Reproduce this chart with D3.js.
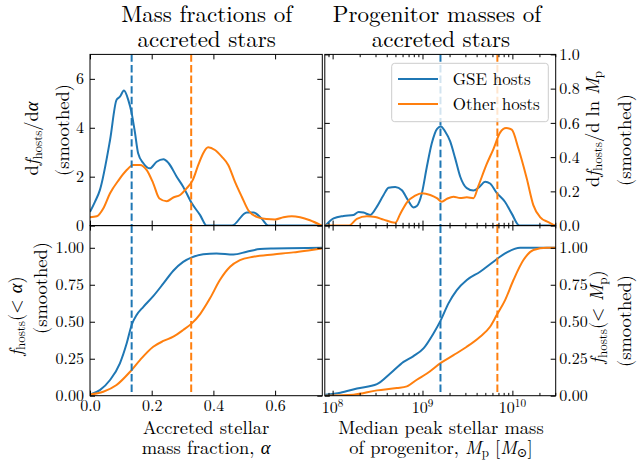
<!DOCTYPE html>
<html><head><meta charset="utf-8">
<script src="https://cdn.jsdelivr.net/npm/d3@7"></script>
<style>
body{margin:0;background:#fff}
</style>
</head><body>
<svg id="c" width="640" height="466"></svg>
<script>
// ---------------- DATA ----------------
const seriesNames = ["GSE hosts", "Other hosts"];
const seriesColors = ["#1f77b4", "#ff7f0e"];

// Top-left: dfhosts/dalpha
const pdfAlphaGSE_a = [0, 0.016, 0.032, 0.065, 0.086, 0.097, 0.11, 0.124, 0.135, 0.146, 0.156, 0.173, 0.194, 0.216, 0.238, 0.255, 0.281, 0.302, 0.33, 0.357, 0.378, 0.46, 0.508, 0.53, 0.556, 0.578, 0.753];
const pdfAlphaGSE_v = [0.56, 0.97, 1.45, 3.5, 5.14, 5.27, 5.52, 5.14, 4.6, 3.78, 2.96, 2.55, 2.34, 2.61, 2.71, 2.55, 2.0, 1.59, 0.91, 0.43, 0.0, 0.0, 0.54, 0.54, 0.29, 0.0, 0.0];
const pdfAlphaOth_a = [0, 0.022, 0.043, 0.065, 0.093, 0.119, 0.14, 0.162, 0.184, 0.205, 0.225, 0.249, 0.27, 0.292, 0.313, 0.333, 0.351, 0.367, 0.383, 0.405, 0.427, 0.448, 0.47, 0.492, 0.513, 0.54, 0.573, 0.6, 0.627, 0.654, 0.681, 0.713, 0.751];
const pdfAlphaOth_v = [0.34, 0.38, 0.7, 1.32, 1.86, 2.27, 2.48, 2.48, 2.27, 1.73, 1.11, 1.0, 1.15, 1.25, 1.52, 1.86, 2.48, 2.96, 3.2, 3.09, 2.82, 2.48, 1.79, 1.18, 0.63, 0.36, 0.27, 0.25, 0.34, 0.38, 0.34, 0.22, 0.0];

// Top-right: dfhosts/dlnMp  (log10 of Mp)
const pdfMpGSE_logM = [7.919, 8.011, 8.122, 8.233, 8.289, 8.344, 8.419, 8.493, 8.567, 8.622, 8.697, 8.771, 8.833, 8.9, 8.937, 8.993, 9.049, 9.104, 9.16, 9.204, 9.252, 9.308, 9.363, 9.419, 9.493, 9.567, 9.633, 9.697, 9.752, 9.826, 9.919, 9.993, 10.078, 10.482];
const pdfMpGSE_v = [0, 0.042, 0.056, 0.062, 0.079, 0.076, 0.062, 0.111, 0.179, 0.221, 0.226, 0.207, 0.153, 0.106, 0.114, 0.189, 0.345, 0.482, 0.564, 0.579, 0.55, 0.492, 0.394, 0.287, 0.219, 0.205, 0.226, 0.256, 0.246, 0.191, 0.138, 0.07, 0.0, 0.0];
const pdfMpOth_logM = [7.919, 8.178, 8.27, 8.382, 8.474, 8.567, 8.697, 8.752, 8.827, 8.919, 8.993, 9.086, 9.16, 9.215, 9.27, 9.345, 9.419, 9.493, 9.567, 9.622, 9.715, 9.789, 9.863, 9.93, 9.993, 10.067, 10.16, 10.233, 10.308, 10.4, 10.474];
const pdfMpOth_v = [0, 0, 0.039, 0.054, 0.05, 0.035, 0.017, 0.068, 0.136, 0.175, 0.189, 0.179, 0.16, 0.14, 0.156, 0.169, 0.161, 0.165, 0.16, 0.232, 0.36, 0.447, 0.543, 0.57, 0.56, 0.45, 0.275, 0.12, 0.05, 0.02, 0];

// Bottom-left: fhosts(<alpha)
const cdfAlphaGSE_a = [0, 0.032, 0.065, 0.097, 0.119, 0.135, 0.151, 0.173, 0.205, 0.238, 0.27, 0.302, 0.33, 0.367, 0.41, 0.465, 0.508, 0.551, 0.594, 0.753];
const cdfAlphaGSE_v = [0.008, 0.038, 0.106, 0.219, 0.354, 0.478, 0.545, 0.601, 0.673, 0.759, 0.845, 0.905, 0.935, 0.957, 0.962, 0.955, 0.973, 0.991, 0.995, 1.0];
const cdfAlphaOth_a = [0, 0.043, 0.086, 0.13, 0.162, 0.205, 0.238, 0.27, 0.302, 0.33, 0.357, 0.389, 0.421, 0.454, 0.486, 0.529, 0.594, 0.659, 0.713, 0.751];
const cdfAlphaOth_v = [0.008, 0.027, 0.072, 0.162, 0.241, 0.331, 0.37, 0.399, 0.444, 0.489, 0.552, 0.658, 0.782, 0.872, 0.917, 0.939, 0.955, 0.969, 0.984, 0.995];

// Bottom-right: fhosts(<Mp)
const cdfMpGSE_logM = [7.919, 8.086, 8.271, 8.493, 8.641, 8.789, 8.9, 9.011, 9.122, 9.204, 9.289, 9.382, 9.493, 9.641, 9.789, 9.919, 10.086, 10.23, 10.482];
const cdfMpGSE_v = [0.007, 0.02, 0.049, 0.078, 0.15, 0.229, 0.268, 0.32, 0.421, 0.511, 0.624, 0.714, 0.782, 0.838, 0.906, 0.962, 1.0, 1.0, 1.0];
const cdfMpOth_logM = [7.919, 8.233, 8.493, 8.715, 8.826, 8.937, 9.049, 9.204, 9.345, 9.493, 9.641, 9.752, 9.826, 9.919, 10.012, 10.123, 10.234, 10.382, 10.482];
const cdfMpOth_v = [0.0, 0.007, 0.036, 0.052, 0.063, 0.108, 0.15, 0.222, 0.274, 0.331, 0.399, 0.466, 0.545, 0.646, 0.782, 0.917, 0.985, 1.0, 1.0];

// Medians (dashed lines)
const medianAlpha = [0.135, 0.328];
const medianLogMp = [9.2, 9.833];

// Tick values / labels
const alphaTicks = [0, 0.2, 0.4, 0.6];
const alphaTickLabels = ["0.0", "0.2", "0.4", "0.6"];
const pdfAlphaTicks = [0, 2, 4, 6];
const pdfMpTicks = [0, 0.2, 0.4, 0.6, 0.8, 1.0];
const cdfTicks = [0, 0.25, 0.5, 0.75, 1.0];
const mpMajorExp = [8, 9, 10];

// ---------------- DRAW ----------------
const FONT = "'Latin Modern Roman', 'Liberation Serif', 'DejaVu Serif', serif";
(function(){ const cv = document.createElement("canvas").getContext("2d");
  ["", "italic "].forEach(s => { cv.font = s + "20px " + FONT; cv.measureText("Mass fractions αM⊙0123"); }); })();

const svg = d3.select("#c").attr("font-family", FONT);
const FS_TICK = 16, FS_LAB = 18.5, FS_TITLE = 23, FS_LEG = 17;

const xA = d3.scaleLinear().domain([0, 0.753]).range([90, 322.3]);
const xM = d3.scaleLog().domain([Math.pow(10, 7.913), Math.pow(10, 10.482)]).range([324.8, 555.7]);
const yPdfA = d3.scaleLinear().domain([0, 7]).range([225.6, 54.4]);
const yPdfM = d3.scaleLinear().domain([0, 1]).range([225.6, 54.4]);
const yCdf = d3.scaleLinear().domain([0, 1.15]).range([395.7, 225.6]);

const mpMinor = [];
for (let e = 7; e <= 10; e++) for (let m = 2; m <= 9; m++) {
  const v = m * Math.pow(10, e);
  if (v >= xM.domain()[0] && v <= xM.domain()[1]) mpMinor.push(v);
}
const mpMajor = mpMajorExp.map(e => Math.pow(10, e));

const panels = [
  {id: "tl", x: xA, y: yPdfA, log: false, xt: alphaTicks, yt: pdfAlphaTicks, yfmt: d => d3.format("d")(d), yside: "left", xlab: false},
  {id: "tr", x: xM, y: yPdfM, log: true, yt: pdfMpTicks, yfmt: d3.format(".1f"), yside: "right", xlab: false},
  {id: "bl", x: xA, y: yCdf, log: false, xt: alphaTicks, yt: cdfTicks, yfmt: d3.format(".2f"), yside: "left", xlab: true},
  {id: "br", x: xM, y: yCdf, log: true, yt: cdfTicks, yfmt: d3.format(".2f"), yside: "right", xlab: true}
];

const defs = svg.append("defs");
panels.forEach(p => {
  const [x0, x1] = p.x.range(), [y1, y0] = p.y.range();
  p.box = {x0, x1, y0, y1};
  defs.append("clipPath").attr("id", "clip-" + p.id)
    .append("rect").attr("x", x0).attr("y", y0).attr("width", x1 - x0).attr("height", y1 - y0);
});

function mkLine(p, xs, ys) {
  return d3.line()
    .x((d, i) => p.x(p.log ? Math.pow(10, xs[i]) : xs[i]))
    .y((d, i) => p.y(ys[i]))
    .curve(d3.curveMonotoneX)(xs);
}

const curveData = {
  tl: [[pdfAlphaGSE_a, pdfAlphaGSE_v], [pdfAlphaOth_a, pdfAlphaOth_v]],
  tr: [[pdfMpGSE_logM, pdfMpGSE_v], [pdfMpOth_logM, pdfMpOth_v]],
  bl: [[cdfAlphaGSE_a, cdfAlphaGSE_v], [cdfAlphaOth_a, cdfAlphaOth_v]],
  br: [[cdfMpGSE_logM, cdfMpGSE_v], [cdfMpOth_logM, cdfMpOth_v]]
};

panels.forEach(p => {
  const g = svg.append("g").attr("clip-path", "url(#clip-" + p.id + ")");
  curveData[p.id].forEach((s, k) => {
    g.append("path").attr("d", mkLine(p, s[0], s[1]))
      .attr("fill", "none").attr("stroke", seriesColors[k]).attr("stroke-width", 2)
      .attr("stroke-linejoin", "round");
  });
  const meds = p.log ? medianLogMp.map(v => Math.pow(10, v)) : medianAlpha;
  meds.forEach((m, k) => {
    g.append("line").attr("x1", p.x(m)).attr("x2", p.x(m))
      .attr("y1", p.box.y0).attr("y2", p.box.y1)
      .attr("stroke", seriesColors[k]).attr("stroke-width", 2)
      .attr("stroke-dasharray", "7.4,3.2");
  });
});

// axes / ticks
function styleAxis(g) {
  g.select(".domain").remove();
  g.selectAll("line").attr("stroke", "#000").attr("stroke-width", 1);
  g.attr("font-family", FONT).attr("font-size", FS_TICK);
  g.selectAll("text").attr("font-size", FS_TICK).attr("font-family", FONT).attr("fill", "#000");
}
panels.forEach(p => {
  const b = p.box;
  const xMajor = p.log ? mpMajor : p.xt;
  const addX = (axisFn, yPos, size, vals, labels) => {
    const ax = axisFn(p.x).tickValues(vals).tickSizeInner(-size).tickSizeOuter(0).tickPadding(4);
    ax.tickFormat(labels ? ((d, i) => labels[i]) : "");
    svg.append("g").attr("transform", `translate(0,${yPos})`).call(ax).call(styleAxis);
  };
  addX(d3.axisBottom, b.y1, 5, xMajor, (p.xlab && !p.log) ? alphaTickLabels : null);
  addX(d3.axisTop, b.y0, 5, xMajor, null);
  if (p.log) {
    addX(d3.axisBottom, b.y1, 2.8, mpMinor, null);
    addX(d3.axisTop, b.y0, 2.8, mpMinor, null);
  }
  const axL = d3.axisLeft(p.y).tickValues(p.yt).tickSizeInner(-5).tickSizeOuter(0).tickPadding(6)
    .tickFormat(p.yside === "left" ? p.yfmt : "");
  svg.append("g").attr("transform", `translate(${b.x0},0)`).call(axL).call(styleAxis);
  const axR = d3.axisRight(p.y).tickValues(p.yt).tickSizeInner(-5).tickSizeOuter(0).tickPadding(3.5)
    .tickFormat(p.yside === "right" ? p.yfmt : "");
  svg.append("g").attr("transform", `translate(${b.x1},0)`).call(axR).call(styleAxis);

  svg.append("rect").attr("x", b.x0).attr("y", b.y0).attr("width", b.x1 - b.x0).attr("height", b.y1 - b.y0)
    .attr("fill", "none").attr("stroke", "#000").attr("stroke-width", 1);

  if (p.log && p.xlab) {
    mpMajorExp.forEach(e => {
      const t = svg.append("text").attr("x", p.x(Math.pow(10, e))).attr("y", 413.3)
        .attr("text-anchor", "middle").attr("font-size", FS_TICK).attr("font-family", FONT);
      t.append("tspan").text("10");
      t.append("tspan").text(e).attr("font-size", FS_TICK * 0.7).attr("dy", -6);
    });
  }
});

// multi-line rich text: lines given with global anchor positions
function mlabel(rot, lines, fs) {
  const X = lines[0].x, Y = lines[0].y;
  const t = svg.append("text").attr("font-size", fs).attr("font-family", FONT)
    .attr("text-anchor", "middle")
    .attr("transform", `translate(${X},${Y}) rotate(${rot})`);
  lines.forEach(L => {
    const gx = L.x - X, gy = L.y - Y;
    const lx = rot === 0 ? gx : -gy, ly = rot === 0 ? gy : gx;
    let shift = 0;
    L.parts.forEach((pt, j) => {
      const ts = t.append("tspan").text(pt.t);
      if (j === 0) ts.attr("x", lx).attr("y", ly);
      if (pt.i) ts.attr("font-style", "italic");
      let want = 0;
      if (pt.sub) { ts.attr("font-size", fs * 0.7); want = fs * 0.2; }
      if (want !== shift) { ts.attr("dy", want - shift); shift = want; }
    });
  });
  return t;
}

// titles
mlabel(0, [{x: 206.7, y: 21.7, parts: [{t: "Mass fractions of"}]},
           {x: 206.7, y: 46.7, parts: [{t: "accreted stars"}]}], FS_TITLE);
mlabel(0, [{x: 437, y: 21.7, parts: [{t: "Progenitor masses of"}]},
           {x: 441, y: 46.7, parts: [{t: "accreted stars"}]}], FS_TITLE);

// x labels
mlabel(0, [{x: 206, y: 434, parts: [{t: "Accreted stellar"}]},
           {x: 206, y: 453.5, parts: [{t: "mass fraction, "}, {t: "α", i: true}]}], FS_LAB);
mlabel(0, [{x: 441, y: 433.5, parts: [{t: "Median peak stellar mass"}]},
           {x: 441, y: 453.5, parts: [{t: "of progenitor, "}, {t: "M", i: true}, {t: "p", sub: true}, {t: " ["}, {t: "M", i: true}, {t: "⊙", sub: true}, {t: "]"}]}], FS_LAB);

// y labels
mlabel(-90, [{x: 38, y: 138.5, parts: [{t: "d"}, {t: "f", i: true}, {t: "hosts", sub: true}, {t: "/d"}, {t: "α", i: true}]},
             {x: 68.5, y: 130, parts: [{t: "(smoothed)"}]}], FS_LAB);
mlabel(-90, [{x: 21.5, y: 316, parts: [{t: "f", i: true}, {t: "hosts", sub: true}, {t: "(< "}, {t: "α", i: true}, {t: ")"}]},
             {x: 46.5, y: 288, parts: [{t: "(smoothed)"}]}], FS_LAB);
mlabel(-90, [{x: 598.5, y: 129, parts: [{t: "d"}, {t: "f", i: true}, {t: "hosts", sub: true}, {t: "/d ln "}, {t: "M", i: true}, {t: "p", sub: true}]},
             {x: 631, y: 140, parts: [{t: "(smoothed)"}]}], FS_LAB);
mlabel(-90, [{x: 603, y: 317, parts: [{t: "f", i: true}, {t: "hosts", sub: true}, {t: "(< "}, {t: "M", i: true}, {t: "p", sub: true}, {t: ")"}]},
             {x: 631, y: 321, parts: [{t: "(smoothed)"}]}], FS_LAB);

// legend
const leg = svg.append("g");
leg.append("rect").attr("x", 391.7).attr("y", 63.3).attr("width", 156.6).attr("height", 58.4)
  .attr("rx", 3).attr("fill", "#fff").attr("fill-opacity", 0.8).attr("stroke", "#cccccc").attr("stroke-width", 1);
seriesNames.forEach((n, k) => {
  const yy = 79 + k * 25;
  leg.append("line").attr("x1", 398).attr("x2", 438).attr("y1", yy).attr("y2", yy)
    .attr("stroke", seriesColors[k]).attr("stroke-width", 2);
  leg.append("text").attr("x", 452.7).attr("y", yy + 6).attr("font-size", FS_LEG).attr("font-family", FONT).text(n);
});
</script>
</body></html>
